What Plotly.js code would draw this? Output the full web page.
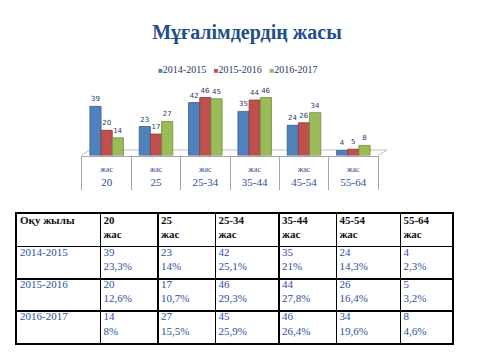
<!DOCTYPE html>
<html>
<head>
<meta charset="utf-8">
<script src="https://cdn.plot.ly/plotly-3.0.1.min.js"></script>
<style>html,body{margin:0;padding:0;background:#fff;}#chart{width:483px;height:363px;}</style>
</head>
<body>
<div id="chart"></div>
<script>
// ---- data ----
const chartTitle = 'Мұғалімдердің жасы';
const unitWord = 'жас';
const yearHeader = 'Оқу жылы';
const categories = ['20', '25', '25-34', '35-44', '45-54', '55-64'];
const years = ['2014-2015', '2015-2016', '2016-2017'];
const counts2014 = [39, 23, 42, 35, 24, 4];
const counts2015 = [20, 17, 46, 44, 26, 5];
const counts2016 = [14, 27, 45, 46, 34, 8];
const pct2014 = ['23,3%', '14%', '25,1%', '21%', '14,3%', '2,3%'];
const pct2015 = ['12,6%', '10,7%', '29,3%', '27,8%', '16,4%', '3,2%'];
const pct2016 = ['8%', '15,5%', '25,9%', '26,4%', '19,6%', '4,6%'];

// ---- styles ----
const serif = 'Liberation Serif, Times New Roman, serif';
const colors = ['#4F81BD', '#C0504D', '#9BBB59'];
const edgeColors = ['#385D8A', '#8C3836', '#71893F'];
const labelBlue = '#2F4F9A';
const allCounts = [counts2014, counts2015, counts2016];
const allPct = [pct2014, pct2015, pct2016];

const traces = [];
allCounts.forEach((vals, i) => {
  traces.push({
    type: 'bar', x: categories, y: vals, name: years[i],
    xaxis: 'x', yaxis: 'y',
    marker: {color: colors[i], line: {color: edgeColors[i], width: 0.8}},
    text: vals.map(String), textposition: 'outside', cliponaxis: false,
    textfont: {family: 'DejaVu Sans', size: 7, color: '#1F3864'},
    showlegend: false, hoverinfo: 'skip'
  });
});
// category box helper (same categories, for boundary gridlines)
traces.push({type: 'scatter', x: categories, y: categories.map(() => 0.5), xaxis: 'x2', yaxis: 'y2',
  mode: 'markers', marker: {opacity: 0}, showlegend: false, hoverinfo: 'skip'});

// ---- table (drawn on its own axes) ----
const colEdges = [0, 83.4, 141, 198.4, 262, 319.4, 383.4, 435];
const tx = [], ty = [], tt = [];
const hx = [], hy = [], ht = [];
hx.push(colEdges[0] + 3); hy.push(0.03); ht.push('<b>' + yearHeader + '</b>');
categories.forEach((c, j) => {
  hx.push(colEdges[j + 1] + 3); hy.push(0.03); ht.push('<b>' + c + '</b><br><b>' + unitWord + '</b>');
});
years.forEach((yr, r) => {
  tx.push(colEdges[0] + 3); ty.push(r + 1.03); tt.push(yr);
  categories.forEach((c, j) => {
    tx.push(colEdges[j + 1] + 3); ty.push(r + 1.03);
    tt.push(allCounts[r][j] + '<br>' + allPct[r][j]);
  });
});
traces.push({type: 'scatter', mode: 'text', x: hx, y: hy, text: ht, xaxis: 'x3', yaxis: 'y3',
  textposition: 'bottom right', textfont: {family: serif, size: 11, color: '#111'},
  showlegend: false, hoverinfo: 'skip', cliponaxis: false});
traces.push({type: 'scatter', mode: 'text', x: tx, y: ty, text: tt, xaxis: 'x3', yaxis: 'y3',
  textposition: 'bottom right', textfont: {family: serif, size: 11, color: labelBlue},
  showlegend: false, hoverinfo: 'skip', cliponaxis: false});

const W = 483, H = 363;
const px = v => v / W, py = v => 1 - v / H;

const legendText = years.map((y, i) =>
  '<span style="color:' + colors[i] + ';font-size:8px">■</span>' + y).join('   ');

const layout = {
  width: W, height: H,
  margin: {l: 0, r: 0, t: 0, b: 0},
  paper_bgcolor: '#fff', plot_bgcolor: 'rgba(0,0,0,0)',
  showlegend: false,
  barmode: 'group', bargap: 0.32, bargroupgap: 0,
  title: {text: '<b>' + chartTitle + '</b>', x: px(247), xref: 'paper', xanchor: 'center',
    y: py(32), yref: 'paper', yanchor: 'middle',
    font: {family: serif, size: 20, color: '#1F4E8C'}},
  xaxis: {domain: [px(82), px(378)], type: 'category', range: [-0.5, 5.5],
    tickvals: categories,
    ticktext: categories.map(c => '<span style="font-size:8px">' + unitWord + '</span><br>' + c),
    tickfont: {family: serif, size: 11, color: labelBlue}, ticklabelstandoff: 2,
    showline: true, linecolor: '#A6A6A6', linewidth: 1, ticks: '', showgrid: false, zeroline: false,
    fixedrange: true},
  yaxis: {domain: [py(155.5), py(155.5 - 60 * 1.26)], range: [0, 60],
    showgrid: false, zeroline: false, showticklabels: false, showline: false, fixedrange: true},
  xaxis2: {domain: [px(82), px(378)], anchor: 'y2', type: 'category', range: [-0.5, 5.5],
    categoryarray: categories, tickson: 'boundaries', showgrid: true, gridcolor: '#A6A6A6', gridwidth: 1,
    showticklabels: false, ticks: '', zeroline: false, showline: false, fixedrange: true},
  yaxis2: {domain: [py(190), py(155.5)], anchor: 'x2', range: [0, 1], showgrid: false, zeroline: false,
    showticklabels: false, showline: true, mirror: true, linecolor: '#A6A6A6', linewidth: 1, fixedrange: true},
  xaxis3: {domain: [px(17), px(452)], anchor: 'y3', range: [0, 435], tickvals: colEdges,
    showgrid: true, gridcolor: '#000', gridwidth: 1.5, showticklabels: false, ticks: '', zeroline: false,
    showline: true, mirror: true, linecolor: '#000', linewidth: 2, fixedrange: true},
  yaxis3: {domain: [py(343.3), py(214.3)], anchor: 'x3', range: [4, 0], tickvals: [0, 1, 2, 3, 4],
    showgrid: true, gridcolor: '#000', gridwidth: 1.5, showticklabels: false, ticks: '', zeroline: false,
    showline: true, mirror: true, linecolor: '#000', linewidth: 2, fixedrange: true},
  shapes: [{type: 'path', xref: 'paper', yref: 'paper', layer: 'below',
    path: 'M' + px(81) + ',' + py(155.5) + ' L' + px(90) + ',' + py(150) + ' L' + px(387) + ',' + py(150) +
      ' L' + px(378) + ',' + py(155.5),
    line: {color: '#BFBFBF', width: 1}}],
  annotations: [{xref: 'paper', yref: 'paper', x: px(238), y: py(70), xanchor: 'center', yanchor: 'middle',
    showarrow: false, text: legendText, font: {family: serif, size: 10, color: '#1F3864'}}]
};

Plotly.newPlot('chart', traces, layout, {displayModeBar: false, staticPlot: true});
</script>
</body>
</html>
